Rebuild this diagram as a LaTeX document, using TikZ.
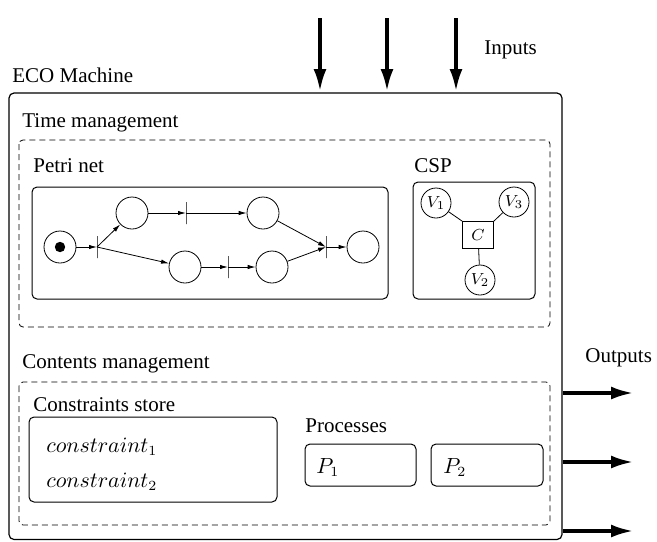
\documentclass[tikz,border=0pt]{standalone}
\usepackage{fontspec}
\setmainfont{Liberation Serif}
\newfontfamily\timesfont{Liberation Serif}
\usetikzlibrary{arrows.meta}

\tikzset{
  place/.style={draw, circle, minimum size=16pt, inner sep=0pt},
  trans/.style={draw, rectangle, minimum width=0pt, minimum height=11pt, inner sep=0pt},
  var/.style={draw, circle, minimum size=15pt, inner sep=0pt, font=\fontsize{8.5}{10}\selectfont},
  cons/.style={draw, rectangle, minimum width=15.5pt, minimum height=13.5pt, inner sep=0pt, font=\fontsize{8.5}{10}\selectfont},
  title/.style={anchor=base west, inner sep=0pt},
  pn/.style={-{Latex[length=4pt,width=2.2pt]}, line width=0.4pt},
  io/.style={-{Latex[length=11pt,width=6.5pt]}, line width=1.6pt},
  area/.style={dashed, dash pattern=on 3pt off 2pt, line width=0.4pt},
  box/.style={rounded corners=2.5pt, line width=0.5pt}
}

\begin{document}
\begin{tikzpicture}[x=0.5pt, y=-0.5pt, font=\timesfont\fontsize{10.5}{12.6}\selectfont]
\useasboundingbox (0,0) rectangle (657,541);

% machine
\draw[box, line width=0.6pt] (9,93) rectangle (562,539.5);
\node[title] (eco) at (12,82) {ECO Machine};

% inputs and outputs
\foreach \x [count=\i] in {320,387,456} {
  \coordinate (in\i) at (\x,18);
  \coordinate (top\i) at (\x,91);
  \draw[io] (in\i) -- (top\i);
}
\node[title] (inputs) at (484,54) {Inputs};

\foreach \y [count=\i] in {393,462,531} {
  \coordinate (side\i) at (563,\y);
  \coordinate (out\i) at (633,\y);
  \draw[io] (side\i) -- (out\i);
}
\node[title] (outputs) at (585,362) {Outputs};

% time management
\node[title] (time) at (22,127) {Time management};
\draw[area, rounded corners=2pt] (19,140) rectangle (550,327);

% petri net
\node[title] (petri) at (33,172) {Petri net};
\draw[box] (32,187) rectangle (388,299);

\node[place] (p0) at (60,247) {};
\fill (p0) circle (2.6pt);
\node[trans] (t1) at (97,247) {};
\node[place] (p1) at (132,213) {};
\node[trans] (t2) at (186,213) {};
\node[place] (p2) at (263,213) {};
\node[place] (p3) at (185,267) {};
\node[trans] (t3) at (228,267) {};
\node[place] (p4) at (272,267) {};
\node[trans] (t4) at (326,247) {};
\node[place] (p5) at (363,247) {};

\draw[pn] (p0) -- (t1.center);
\draw[pn] (t1.center) -- (p1);
\draw[pn] (t1.center) -- (p3);
\draw[pn] (p1) -- (t2.center);
\draw[pn] (t2.center) -- (p2);
\draw[pn] (p3) -- (t3.center);
\draw[pn] (t3.center) -- (p4);
\draw[pn] (p2) -- (t4.center);
\draw[pn] (p4) -- (t4.center);
\draw[pn] (t4.center) -- (p5);

% csp
\node[title] (csp) at (414,172) {CSP};
\draw[box] (413,182) rectangle (535,299);

\node[cons] (c) at (478,235) {$C$};
\node[var] (v1) at (436,203) {$V_1$};
\node[var] (v3) at (514,202) {$V_3$};
\node[var] (v2) at (480,280) {$V_2$};
\draw[line width=0.4pt] (v1) -- (c.north west);
\draw[line width=0.4pt] (v3) -- (c.north east);
\draw[line width=0.4pt] (c) -- (v2);

% contents management
\node[title] (contents) at (22,368) {Contents management};
\draw[area, rounded corners=2pt] (19,382) rectangle (550,525);

\node[title] (store) at (33,411) {Constraints store};
\draw[box] (29,417) rectangle (277,502);
\node[title] (c1) at (46,452) {$constraint_1$};
\node[title] (c2) at (46,487) {$constraint_2$};

\node[title] (proc) at (305,432) {Processes};
\draw[box] (305,444) rectangle (416,486);
\draw[box] (431,444) rectangle (543,486);
\node[title] (pr1) at (316,473) {$P_1$};
\node[title] (pr2) at (443,473) {$P_2$};
\end{tikzpicture}
\end{document}
